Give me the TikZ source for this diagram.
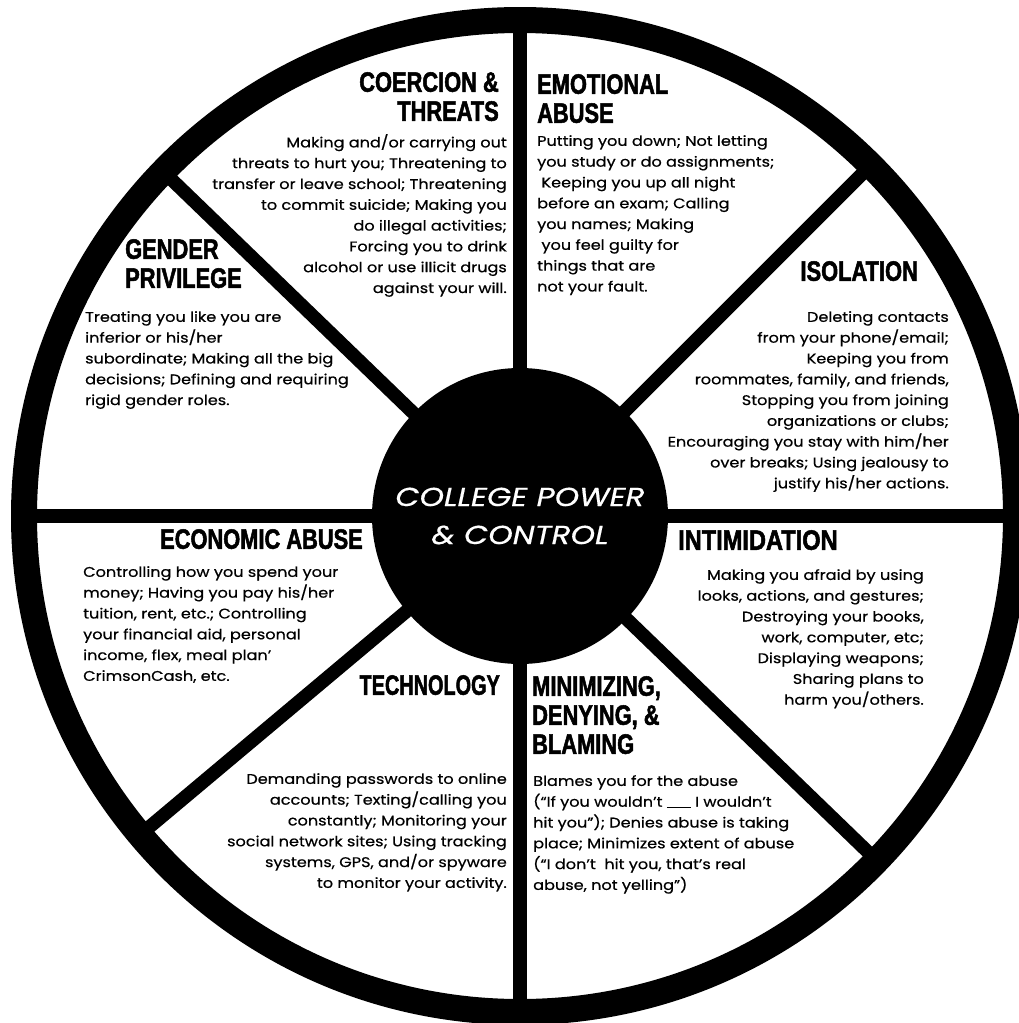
\documentclass[tikz,border=0pt]{standalone}
\usepackage{fontspec}
\setmainfont{Poppins}[FakeStretch=1.15, FakeBold=0.6]
\newfontfamily\headfont[FakeStretch=0.78, FakeBold=1.8]{Liberation Sans}
\newfontfamily\hubfont[FakeStretch=1.2, FakeBold=0.5]{Poppins}
\usepackage{tikz}
\tikzstyle{heading} = [inner sep=0pt, font=\headfont\bfseries\fontsize{28}{29}\selectfont]
\tikzstyle{bodytext} = [inner sep=0pt, font=\fontsize{14}{20.8}\selectfont]
\tikzstyle{hub} = [circle, fill=black, inner sep=0pt, minimum size=296pt, text=white, align=center, font=\hubfont\itshape\fontsize{26}{38}\selectfont]
\tikzstyle{spoke} = [line width=13.5pt]
\tikzstyle{rim} = [line width=26pt]

\begin{document}
\begin{tikzpicture}[x=1pt, y=-1pt]
    \useasboundingbox (0,0) rectangle (1019,1023);
    \coordinate (c) at (520,516);
    \foreach \a in {0,44,90,140,180,224,270,315}
        \draw [spoke] (c) -- +(\a:490);
    \draw [rim] (c) circle (496);
    \node (hub) [hub] at (c) {COLLEGE POWER\\\& CONTROL};

    \node (coerhead) [heading, anchor=north east, align=right] at (499,72) {COERCION \&\\THREATS};
    \node (coertext) [bodytext, anchor=north east, align=right] at (507,134) {Making and/or carrying out\\threats to hurt you; Threatening to\\transfer or leave school; Threatening\\to commit suicide; Making you\\do illegal activities;\\Forcing you to drink\\alcohol or use illicit drugs\\against your will.};

    \node (emohead) [heading, anchor=north west, align=left] at (537,74) {EMOTIONAL\\ABUSE};
    \node (emotext) [bodytext, anchor=north west, align=left] at (537,135) {Putting you down; Not letting\\you study or do assignments;\\\ Keeping you up all night\\before an exam; Calling\\you names; Making\\\ you feel guilty for\\things that are\\not your fault.};

    \node (gendhead) [heading, anchor=north west, align=left] at (125,239) {GENDER\\PRIVILEGE};
    \node (gendtext) [bodytext, anchor=north west, align=left] at (85,311) {Treating you like you are\\inferior or his/her\\subordinate; Making all the big\\decisions; Defining and requiring\\rigid gender roles.};

    \node (isolhead) [heading, anchor=north east] at (918,261) {ISOLATION};
    \node (isoltext) [bodytext, anchor=north east, align=right] at (949,311) {Deleting contacts\\from your phone/email;\\Keeping you from\ \\roommates, family, and friends,\\Stopping you from joining\\organizations or clubs;\\Encouraging you stay with him/her\\over breaks; Using jealousy to\\justify his/her actions.};

    \node (econhead) [heading, anchor=north east] at (363,529) {ECONOMIC ABUSE};
    \node (econtext) [bodytext, anchor=north west, align=left] at (83,566) {Controlling how you spend your\\money; Having you pay his/her\\tuition, rent, etc.; Controlling\\your financial aid, personal\\income, flex, meal plan'\\CrimsonCash, etc.};

    \node (intihead) [heading, anchor=north west] at (678,530) {\scalebox{1.08}[1]{INTIMIDATION}};
    \node (intitext) [bodytext, anchor=north east, align=right] at (924,569) {Making you afraid by using\\looks, actions, and gestures;\\Destroying your books,\ \\work, computer, etc;\\Displaying weapons;\\Sharing plans to\ \ \\harm you/others.};

    \node (techhead) [heading, anchor=north east] at (500,675) {\scalebox{0.91}[1]{TECHNOLOGY}};
    \node (techtext) [bodytext, anchor=north east, align=right] at (507,773) {Demanding passwords to online\\accounts; Texting/calling you\\constantly; Monitoring your\\social network sites; Using tracking\\systems, GPS, and/or spyware\\to monitor your activity.};

    \node (minihead) [heading, anchor=north west, align=left] at (532,676) {MINIMIZING,\\DENYING, \&\\BLAMING};
    \node (minitext) [bodytext, anchor=north west, align=left] at (533,775) {Blames you for the abuse\\(``If you wouldn't \rule[-1.5pt]{24pt}{0.8pt} I wouldn't\\hit you''); Denies abuse is taking\\place; Minimizes extent of abuse\\(``I don't\ \ hit you, that's real\\abuse, not yelling'')};
\end{tikzpicture}
\end{document}
